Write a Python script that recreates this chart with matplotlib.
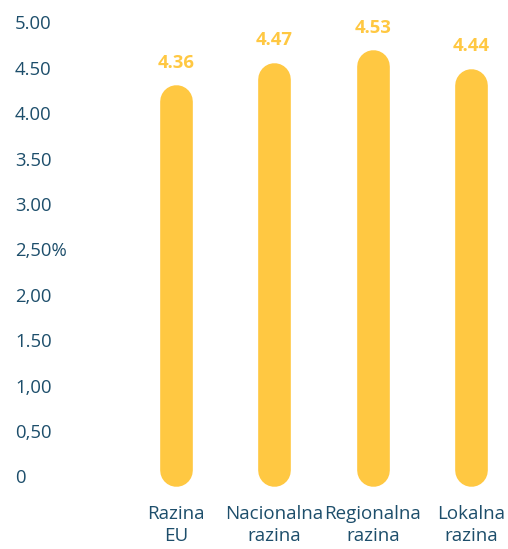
import matplotlib.pyplot as plt
import matplotlib.transforms as mtransforms

categories = ['Razina\nEU', 'Nacionalna\nrazina', 'Regionalna\nrazina', 'Lokalna\nrazina']
values = [4.36, 4.47, 4.53, 4.44]
tick_values = [5.0, 4.5, 4.0, 3.5, 3.0, 2.5, 2.0, 1.5, 1.0, 0.5, 0]
tick_labels = ['5.00', '4.50', '4.00', '3.50', '3.00', '2,50%', '2,00', '1.50', '1,00', '0,50', '0']

yellow = '#FFC842'
dark = '#1D4E6B'
plt.rcParams['font.family'] = ['Open Sans', 'DejaVu Sans']

fig = plt.figure(figsize=(5.08, 5.49), dpi=100)
ax = fig.add_axes([0, 0, 1, 1])
ax.set_xlim(-1.787, 3.371)
ax.set_ylim(-0.777, 5.269)
ax.axis('off')

# left scale labels
trans = mtransforms.blended_transform_factory(ax.transAxes, ax.transData)
for v, lab in zip(tick_values, tick_labels):
    ax.text(15 / 508, v, lab, transform=trans, ha='left', va='center',
            fontsize=13.3, color=dark)

# bars on their own scale (rounded capsules)
bx = ax.twinx()
bx.set_ylim(2.153, 4.857)
bx.axis('off')
base = 2.54
for i, v in enumerate(values):
    bx.plot([i, i], [base, v], color=yellow, lw=23.5, solid_capstyle='round')
    bx.annotate(f'{v:.2f}', (i, v), xytext=(0, 27.5), textcoords='offset points',
                ha='center', va='center', fontsize=13.3, fontweight='bold', color=yellow)

# category labels
trans2 = mtransforms.blended_transform_factory(ax.transData, ax.transAxes)
for i, c in enumerate(categories):
    ax.text(i, (549 - 525) / 549, c, transform=trans2, ha='center', va='center',
            fontsize=13.5, color=dark, linespacing=1.3)

fig.savefig('out.png', dpi=100)
